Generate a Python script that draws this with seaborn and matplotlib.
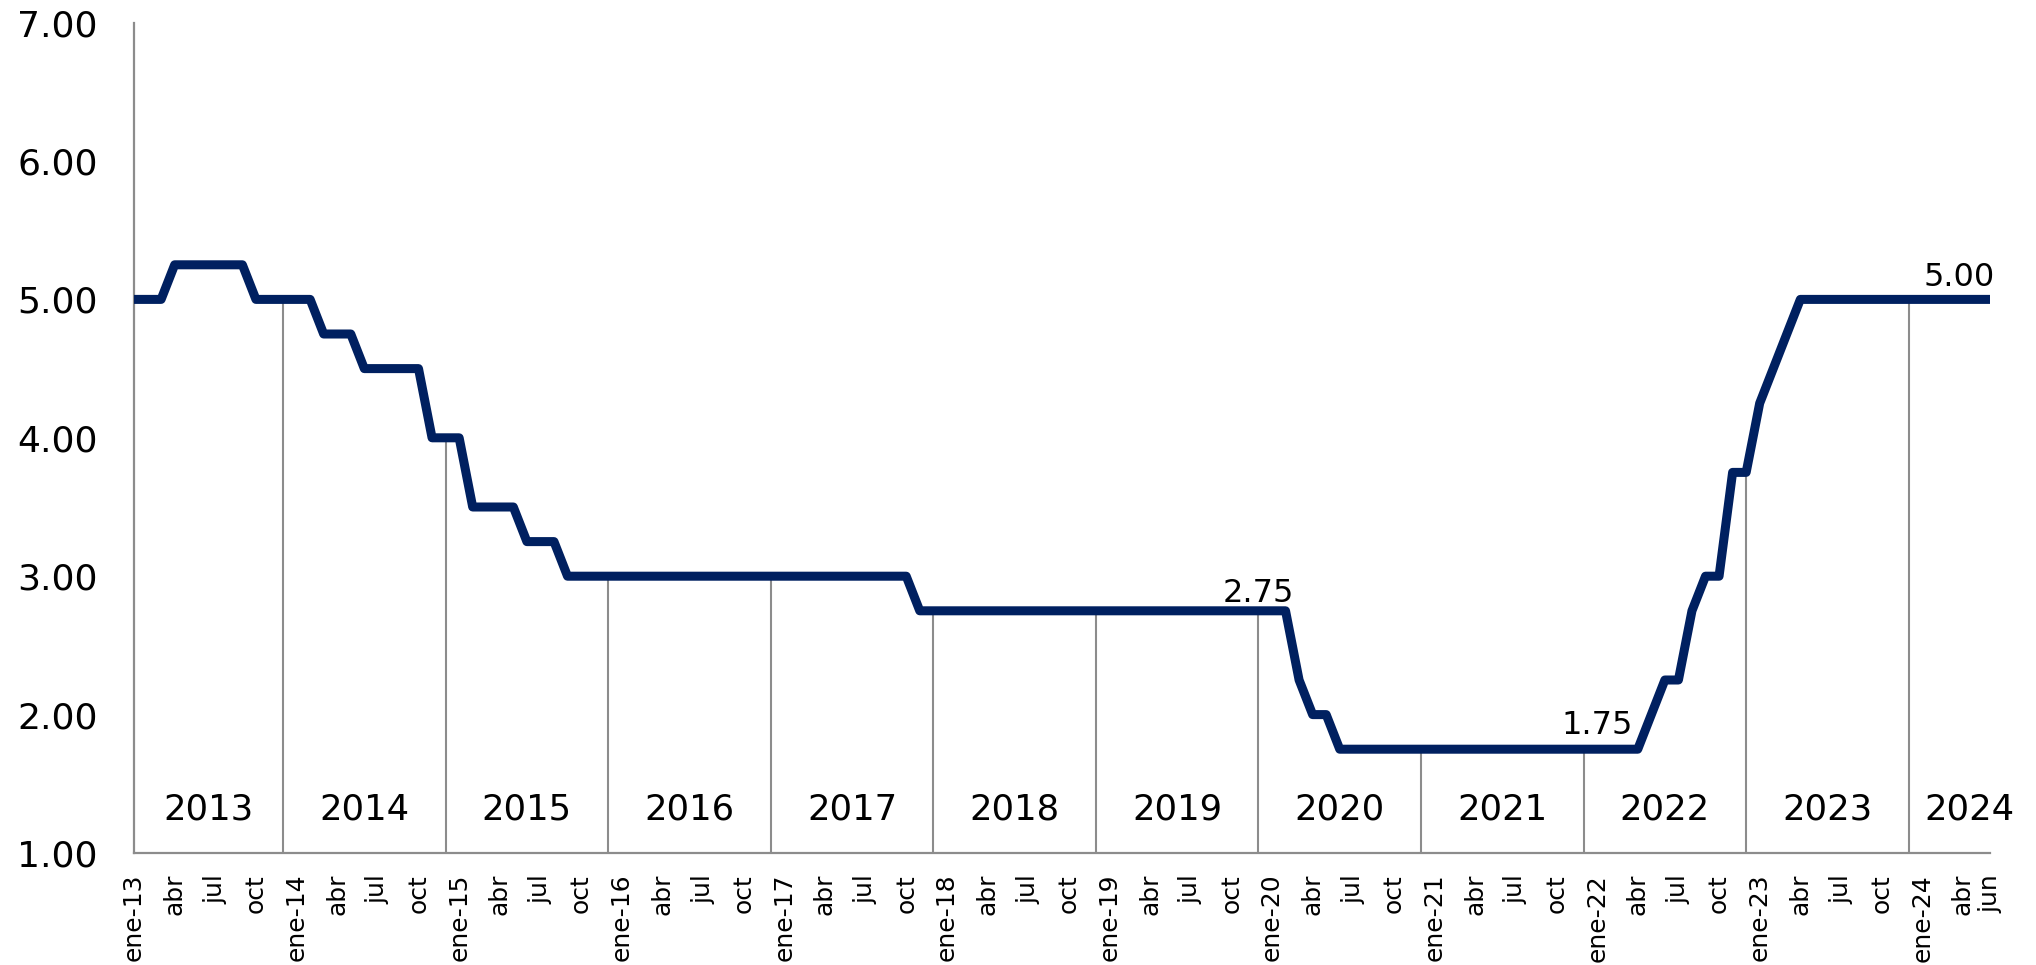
import numpy as np
import pandas as pd
import matplotlib
matplotlib.use("Agg")
import matplotlib.pyplot as plt
import seaborn as sns

# ---- data (monthly, ene-2013 .. jun-2024) ----
years = list(range(2013, 2025))
month_abbr = ["ene", "feb", "mar", "abr", "may", "jun",
              "jul", "ago", "sep", "oct", "nov", "dic"]

rate_2013 = [5.00, 5.00, 5.00, 5.25, 5.25, 5.25, 5.25, 5.25, 5.25, 5.00, 5.00, 5.00]
rate_2014 = [5.00, 5.00, 4.75, 4.75, 4.75, 4.50, 4.50, 4.50, 4.50, 4.50, 4.00, 4.00]
rate_2015 = [4.00, 3.50, 3.50, 3.50, 3.50, 3.25, 3.25, 3.25, 3.00, 3.00, 3.00, 3.00]
rate_2016 = [3.00] * 12
rate_2017 = [3.00] * 10 + [2.75, 2.75]
rate_2018 = [2.75] * 12
rate_2019 = [2.75] * 12
rate_2020 = [2.75, 2.75, 2.25, 2.00, 2.00, 1.75, 1.75, 1.75, 1.75, 1.75, 1.75, 1.75]
rate_2021 = [1.75] * 12
rate_2022 = [1.75, 1.75, 1.75, 1.75, 2.00, 2.25, 2.25, 2.75, 3.00, 3.00, 3.75, 3.75]
rate_2023 = [4.25, 4.50, 4.75, 5.00, 5.00, 5.00, 5.00, 5.00, 5.00, 5.00, 5.00, 5.00]
rate_2024 = [5.00, 5.00, 5.00, 5.00, 5.00, 5.00]

rates = (rate_2013 + rate_2014 + rate_2015 + rate_2016 + rate_2017 + rate_2018 +
         rate_2019 + rate_2020 + rate_2021 + rate_2022 + rate_2023 + rate_2024)

y_ticks = [1.00, 2.00, 3.00, 4.00, 5.00, 6.00, 7.00]

# annotated values: (month index, value)
annot_idx = [83, 108, 134.7]
annot_val = [2.75, 1.75, 5.00]

# ---- build frame ----
n = len(rates)
month_idx = np.arange(n)
df = pd.DataFrame({"mes": month_idx, "tasa": rates})

xlabels = []
for i in range(n):
    y = 2013 + i // 12
    m = i % 12
    if m == 0:
        xlabels.append(f"{month_abbr[m]}-{str(y)[2:]}")
    elif m in (3, 6, 9):
        xlabels.append(month_abbr[m])
    else:
        xlabels.append("")
xlabels[-1] = month_abbr[(n - 1) % 12]

# ---- plot ----
sns.set_style("white")
plt.rcParams["font.family"] = ["DejaVu Sans"]

fig = plt.figure(figsize=(20.36, 9.65), dpi=100)
ax = fig.add_axes([0.06582, 0.11606, 0.91159, 0.86052])

grey = "#8c8c8c"
navy = "#002060"

# year separators (December of each year) from the floor to the line
sep_x = [i for i in range(n) if i % 12 == 11]
ax.vlines(sep_x, 1.0, [rates[i] for i in sep_x], colors=grey, linewidth=1.5, zorder=1)

sns.lineplot(data=df, x="mes", y="tasa", ax=ax, color=navy, linewidth=6.5,
             zorder=3, legend=False)
for ln in ax.get_lines():
    ln.set_solid_joinstyle("round")
    ln.set_solid_capstyle("butt")

ax.set_xlim(0, n - 1)
ax.set_ylim(1.0, 7.0)

ax.set_yticks(y_ticks)
ax.set_yticklabels([f"{v:.2f}" for v in y_ticks])
ax.tick_params(axis="y", length=0, pad=26, labelsize=26, labelcolor="black")

ax.set_xticks(month_idx)
ax.set_xticklabels(xlabels, rotation=90, fontsize=18)
ax.tick_params(axis="x", direction="out", length=4, width=1.4, color=grey,
               pad=11, labelcolor="black")

for s in ["top", "right"]:
    ax.spines[s].set_visible(False)
for s in ["left", "bottom"]:
    ax.spines[s].set_color(grey)
    ax.spines[s].set_linewidth(1.6)

ax.set_xlabel("")
ax.set_ylabel("")

# year labels
for k, yr in enumerate(years):
    start = 0 if k == 0 else 12 * k - 1
    end = min(12 * k + 11, n - 1)
    cx = (start + end) / 2 + (1.5 if k == len(years) - 1 else 0)
    ax.text(cx, 1.315, str(yr), ha="center", va="center", fontsize=25.5, color="black")

# value labels
offsets = [0.065, 0.11, 0.095]
for xi, v, off in zip(annot_idx, annot_val, offsets):
    ax.text(xi, v + off, f"{v:.2f}", ha="center", va="baseline", fontsize=23,
            color="black")

fig.savefig("out.png", dpi=100)
